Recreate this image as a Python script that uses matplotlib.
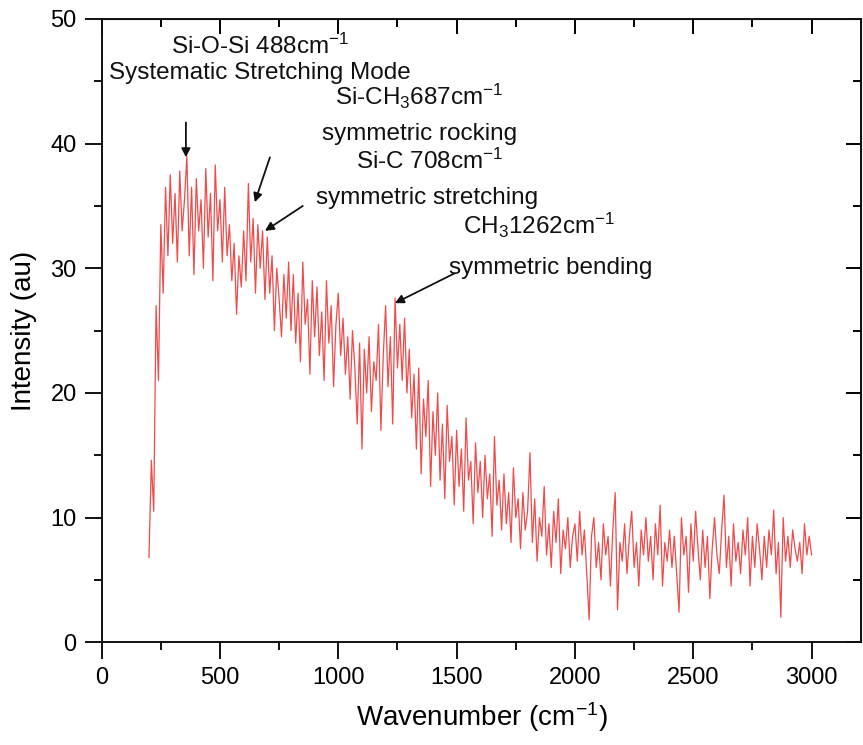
import numpy as np
import matplotlib.pyplot as plt
from matplotlib.ticker import MultipleLocator

plt.rcParams['font.family'] = ['Liberation Sans', 'DejaVu Sans']
plt.rcParams['mathtext.default'] = 'regular'

# Raman spectrum, one value every 10 cm-1 from 200 to 3000
wavenumber_start = 200
wavenumber_step = 10
intensity = [
    6.8, 14.6, 10.5, 27.0, 21.0, 33.5, 28.0, 36.5, 31.0, 37.5,
    32.0, 36.0, 30.5, 37.8, 33.0, 35.5, 39.0, 31.0, 36.5, 29.5,
    37.2, 33.0, 35.5, 30.0, 38.0, 32.5, 36.0, 29.0, 38.3, 33.0,
    35.5, 30.5, 36.5, 31.0, 33.5, 29.0, 32.0, 26.3, 31.0, 28.5,
    33.0, 29.0, 36.8, 30.5, 34.0, 28.0, 33.5, 30.0, 33.0, 27.5,
    32.5, 28.0, 31.0, 25.0, 30.0, 27.5, 24.5, 29.5, 26.0, 30.5,
    25.0, 29.5, 24.0, 28.0, 22.5, 30.5, 25.5, 27.5, 21.5, 29.0,
    24.5, 28.5, 23.0, 26.5, 21.0, 29.0, 24.0, 27.0, 20.5, 25.5,
    28.0, 23.0, 26.0, 21.5, 24.5, 19.5, 25.0, 22.0, 17.5, 24.0,
    15.5, 23.5, 20.0, 24.5, 18.5, 22.5, 21.0, 25.5, 17.0, 23.0,
    27.0, 20.5, 24.5, 17.5, 27.6, 22.0, 25.5, 21.0, 26.0, 20.0,
    23.5, 18.0, 21.5, 15.5, 22.0, 13.5, 19.5, 16.5, 21.0, 12.5,
    18.5, 15.0, 20.0, 13.0, 17.5, 11.5, 19.0, 14.5, 16.5, 11.0,
    17.0, 12.5, 15.5, 10.5, 18.0, 13.0, 14.5, 9.5, 16.0, 12.0,
    14.5, 10.0, 15.0, 11.5, 13.5, 8.5, 16.5, 11.0, 13.0, 9.0,
    13.5, 9.5, 12.0, 8.0, 14.0, 10.0, 11.5, 7.5, 12.0, 9.0,
    10.5, 15.2, 8.0, 11.5, 6.5, 10.0, 8.5, 12.5, 7.0, 9.5,
    6.0, 10.5, 8.0, 11.5, 5.5, 9.0, 7.5, 10.0, 6.0, 8.5,
    9.5, 6.5, 10.5, 7.0, 9.0, 5.5, 1.8, 8.5, 10.0, 6.0,
    8.0, 5.0, 9.5, 7.0, 8.5, 4.5, 9.0, 12.0, 2.6, 8.0,
    6.5, 9.5, 5.5, 8.5, 10.5, 6.0, 8.0, 4.5, 9.0, 7.0,
    10.0, 6.5, 8.5, 5.0, 9.5, 7.0, 11.0, 4.5, 8.0, 6.5,
    9.0, 6.0, 8.5, 5.5, 2.4, 10.0, 7.0, 8.5, 4.0, 9.5,
    6.5, 10.5, 7.5, 5.0, 9.0, 6.0, 8.5, 3.5, 7.5, 10.0,
    7.0, 5.5, 9.0, 11.8, 6.0, 8.5, 4.5, 9.5, 6.5, 8.0,
    5.5, 9.0, 7.0, 10.0, 4.5, 8.5, 6.0, 9.5, 7.5, 5.0,
    8.5, 6.0, 9.0, 7.0, 10.6, 5.5, 8.0, 2.0, 10.0, 6.5,
    8.5, 6.0, 9.0, 7.5, 6.5, 8.0, 5.5, 9.5, 7.0, 8.5,
    7.0,
]
wavenumber = wavenumber_start + wavenumber_step * np.arange(len(intensity))

# annotation texts: (text, x, y) in data units
labels = [
    ("Si-O-Si 488cm$^{-1}$", 669, 47.8),
    ("Systematic Stretching Mode", 669, 45.7),
    ("Si-CH$_3$687cm$^{-1}$", 1344, 43.8),
    ("symmetric rocking", 1344, 40.8),
    ("Si-C 708cm$^{-1}$", 1387, 38.6),
    ("symmetric stretching", 1375, 35.6),
    ("CH$_3$1262cm$^{-1}$", 1848, 33.4),
    ("symmetric bending", 1898, 30.0),
]
# arrows: (tail x, tail y, head x, head y)
arrows = [
    (356, 41.7, 356, 38.9),
    (711, 38.9, 647, 35.3),
    (850, 35.0, 690, 33.0),
    (1492, 29.6, 1239, 27.2),
]

fig = plt.figure(figsize=(8.63, 7.45), dpi=100)
ax = fig.add_axes([0.1178, 0.138, 0.8802, 0.8365])

ax.plot(wavenumber, intensity, color='#f04a4a', lw=0.9)

for txt, x, y in labels:
    ax.text(x, y, txt, ha='center', va='center', fontsize=17.5, color='#111111')
for x0, y0, x1, y1 in arrows:
    ax.annotate('', xy=(x1, y1), xytext=(x0, y0),
                arrowprops=dict(arrowstyle='-|>', color='#111111', lw=1.3,
                                mutation_scale=13, shrinkA=0, shrinkB=0))

ax.set_xlim(0, 3210)
ax.set_ylim(0, 50)
ax.xaxis.set_major_locator(MultipleLocator(500))
ax.xaxis.set_minor_locator(MultipleLocator(250))
ax.yaxis.set_major_locator(MultipleLocator(10))
ax.yaxis.set_minor_locator(MultipleLocator(5))
ax.tick_params(which='major', direction='out', length=12, width=1.4,
               labelsize=17, pad=6, color='#111111')
ax.tick_params(which='minor', direction='out', length=6, width=1.4, color='#111111')
for s in ax.spines.values():
    s.set_linewidth(1.4)
    s.set_color('#111111')

# top and right ticks point inwards
top = ax.secondary_xaxis('top')
top.xaxis.set_major_locator(MultipleLocator(500))
top.xaxis.set_minor_locator(MultipleLocator(250))
top.tick_params(which='major', direction='in', length=11, width=1.4, labeltop=False)
top.tick_params(which='minor', direction='in', length=6, width=1.4)
right = ax.secondary_yaxis('right')
right.yaxis.set_major_locator(MultipleLocator(10))
right.yaxis.set_minor_locator(MultipleLocator(5))
right.tick_params(which='major', direction='in', length=11, width=1.4, labelright=False)
right.tick_params(which='minor', direction='in', length=6, width=1.4)

ax.set_xlabel("Wavenumber (cm$^{-1}$)", fontsize=20, labelpad=8)
ax.set_ylabel("Intensity (au)", fontsize=20, labelpad=10)

fig.savefig("out.png", dpi=100)
